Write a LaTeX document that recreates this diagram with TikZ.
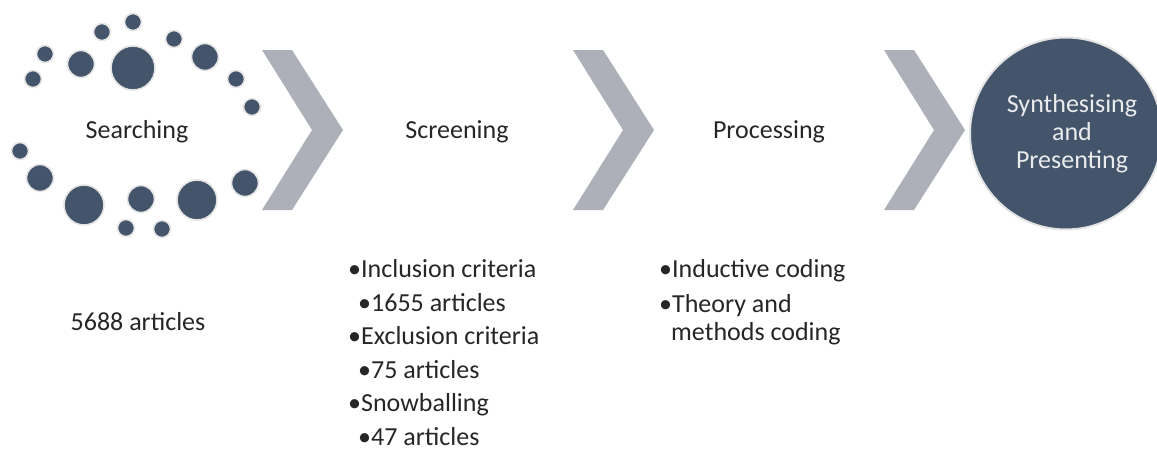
\documentclass[tikz,border=0pt]{standalone}
\usepackage{fontspec}
\setmainfont{Carlito}
\definecolor{navy}{HTML}{44546A}
\definecolor{chev}{HTML}{ADB0B8}
\definecolor{ring}{HTML}{E4E4E4}
\definecolor{txt}{HTML}{262626}
\begin{document}
\begin{tikzpicture}[x=1pt,y=-1pt,
  dot/.style={circle,fill=navy,draw=ring,line width=1.6pt,inner sep=0pt,minimum size=#1},
  chevron/.style={fill=chev,draw=none},
  lbl/.style={font=\fontsize{26}{30}\selectfont,text=txt,inner sep=0pt},
  item/.style={lbl,anchor=base west},
  citem/.style={font=\fontsize{26}{30}\selectfont,text=white!88!navy,inner sep=0pt,anchor=base}]
\useasboundingbox (0,0) rectangle (1157,450);
% dots around Searching
\node[dot=17pt] (d1) at (45,54) {};
\node[dot=17pt] (d2) at (33,79) {};
\node[dot=27pt] (d3) at (81,64) {};
\node[dot=44pt] (d4) at (133,68) {};
\node[dot=17pt] (d5) at (102,32) {};
\node[dot=17pt] (d6) at (133,22) {};
\node[dot=17pt] (d7) at (174,39) {};
\node[dot=27pt] (d8) at (205,57) {};
\node[dot=17pt] (d9) at (236,79) {};
\node[dot=17pt] (d10) at (252,107) {};
\node[dot=17pt] (d11) at (20,151) {};
\node[dot=27pt] (d12) at (40,178) {};
\node[dot=40pt] (d13) at (84,205) {};
\node[dot=17pt] (d14) at (126,228) {};
\node[dot=27pt] (d15) at (141,199) {};
\node[dot=17pt] (d16) at (162,229) {};
\node[dot=40pt] (d17) at (197,200) {};
\node[dot=27pt] (d18) at (245,183) {};
% chevrons
\foreach \i/\dx in {1/0,2/311,3/622}{
  \fill[chevron] (262+\dx,50) -- (292+\dx,50) -- (343+\dx,130) -- (292+\dx,210) -- (262+\dx,210) -- (312+\dx,130) -- cycle;
}
% final circle
\node[circle,fill=navy,draw=ring,line width=2pt,minimum size=192pt,inner sep=0pt] (syn) at (1066,133.5) {};
\node[citem] (s1) at (1072,112) {Synthesising};
\node[citem] (s2) at (1072,140) {and};
\node[citem] (s3) at (1072,168) {Presenting};
% stage labels
\node[lbl,anchor=base] (search) at (137,138) {Searching};
\node[lbl,anchor=base] (screen) at (457,138) {Screening};
\node[lbl,anchor=base] (proc) at (769,138) {Processing};
\node[lbl,anchor=base] (n5688) at (138,330) {5688 articles};
% screening list
\node[item] (a1) at (348,277) {•Inclusion criteria};
\node[item] (a2) at (358,311) {•1655 articles};
\node[item] (a3) at (348,344.5) {•Exclusion criteria};
\node[item] (a4) at (358,378) {•75 articles};
\node[item] (a5) at (348,411.5) {•Snowballing};
\node[item] (a6) at (358,445) {•47 articles};
% processing list
\node[item] (b1) at (659,277) {•Inductive coding};
\node[item] (b2) at (659,312) {•Theory and};
\node[item] (b3) at (671,340) {methods coding};
\end{tikzpicture}
\end{document}
